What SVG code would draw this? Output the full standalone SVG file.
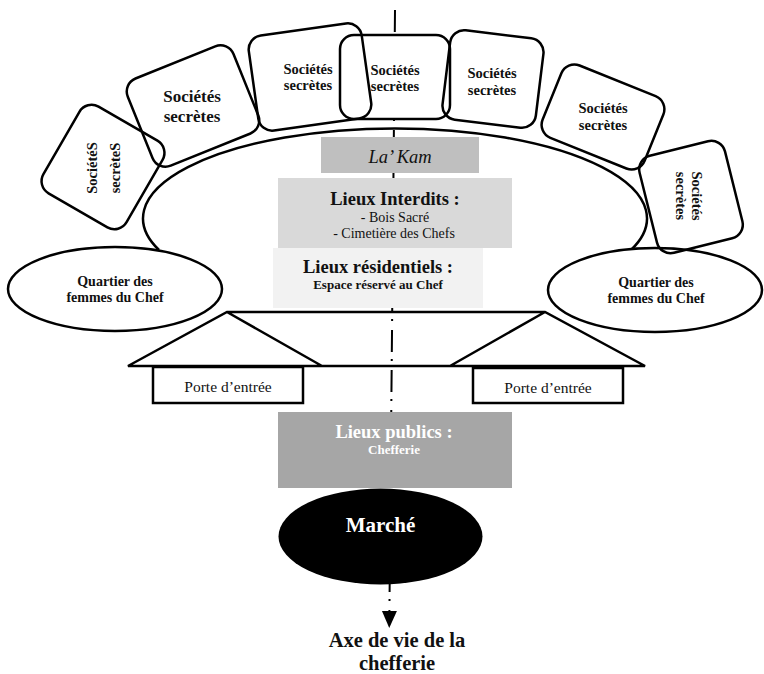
<svg xmlns="http://www.w3.org/2000/svg" width="764" height="674" viewBox="0 0 764 674">
<style>
.ol{fill:none;stroke:#000;stroke-width:2.5}
.ow{fill:#fff;stroke:#000;stroke-width:2.5}
.t{font-family:"Liberation Serif","Times New Roman",serif;fill:#111;text-anchor:middle}
.b{font-weight:bold}
.s{font-size:14.5px}
.w{fill:#fff}
</style>
<defs>
<marker id="arr" markerUnits="userSpaceOnUse" markerWidth="18" markerHeight="18" refX="2" refY="8" orient="auto">
<path d="M0,0.5 L17,8 L0,15.5 Z" fill="#000"/>
</marker>
</defs>
<rect width="764" height="674" fill="#fff"/>

<g id="enceinte">
<path class="ol" d="M 159 250 A 252 90 0 1 1 631 250"/>
</g>

<g id="connectors">
<line x1="395" y1="10" x2="389.4" y2="613" stroke="#000" stroke-width="2" stroke-dasharray="22 7 2 9" marker-end="url(#arr)"/>
</g>

<g id="quartier-gauche">
<ellipse class="ow" cx="115" cy="289" rx="107" ry="42"/>
<text class="t b" font-size="14" x="115" y="286">Quartier des</text>
<text class="t b" font-size="14" x="115" y="302">femmes du Chef</text>
</g>
<g id="quartier-droit">
<ellipse class="ow" cx="655" cy="290" rx="107" ry="42"/>
<text class="t b" font-size="14" x="656" y="287">Quartier des</text>
<text class="t b" font-size="14" x="656" y="303">femmes du Chef</text>
</g>

<g id="societe-4">
<rect class="ow" x="340" y="35" width="110" height="84" rx="14"/>
<text class="t b s" x="395" y="75">Sociétés</text>
<text class="t b s" x="395" y="91">secrètes</text>
</g>
<g id="societe-1">
<rect class="ol" x="-48" y="-50" width="96" height="100" rx="14" transform="translate(103,167) rotate(30)"/>
<text class="t b s" transform="translate(97,168) rotate(-90)">SociétéS</text>
<text class="t b s" transform="translate(120,168) rotate(-90)">secrèteS</text>
</g>
<g id="societe-2">
<rect class="ol" x="-57" y="-47" width="114" height="94" rx="14" transform="translate(193,106) rotate(-22)"/>
<text class="t b" font-size="17" x="192" y="102">Sociétés</text>
<text class="t b" font-size="17" x="192" y="122">secrètes</text>
</g>
<g id="societe-3">
<rect class="ol" x="-57" y="-48" width="114" height="96" rx="14" transform="translate(310,77) rotate(-8)"/>
<text class="t b s" x="308" y="74">Sociétés</text>
<text class="t b s" x="308" y="90">secrètes</text>
</g>
<g id="societe-5">
<rect class="ol" x="-47" y="-45" width="94" height="90" rx="14" transform="translate(493,79) rotate(7)"/>
<text class="t b s" x="492" y="78">Sociétés</text>
<text class="t b s" x="492" y="95">secrètes</text>
</g>
<g id="societe-6">
<rect class="ol" x="-55" y="-39" width="110" height="78" rx="14" transform="translate(603,117) rotate(22)"/>
<text class="t b s" x="603" y="113">Sociétés</text>
<text class="t b s" x="603" y="130">secrètes</text>
</g>
<g id="societe-7">
<rect class="ol" x="-44" y="-50" width="88" height="100" rx="14" transform="translate(691,197) rotate(-14)"/>
<text class="t b s" transform="translate(692,196) rotate(90)">Sociétés</text>
<text class="t b s" transform="translate(676,196) rotate(90)">secrètes</text>
</g>

<g id="la-kam">
<rect x="321" y="137" width="158" height="36" fill="#bfbfbf"/>
<text class="t" font-size="18.5" font-style="italic" x="400" y="163">La’ Kam</text>
</g>
<g id="lieux-interdits">
<rect x="278" y="178" width="234" height="70" fill="#d9d9d9"/>
<text class="t b" font-size="18.5" x="395" y="205">Lieux Interdits :</text>
<text class="t" font-size="14" x="395" y="222">- Bois Sacré</text>
<text class="t" font-size="14" x="394" y="238">- Cimetière des Chefs</text>
</g>
<g id="lieux-residentiels">
<rect x="273" y="248" width="210" height="60" fill="#f2f2f2"/>
<text class="t b" font-size="18.5" x="378" y="273">Lieux résidentiels :</text>
<text class="t b" font-size="13" x="378" y="289">Espace réservé au Chef</text>
</g>

<g id="enceinte-portes">
<path class="ol" stroke-linejoin="miter" d="M128,366 L227,312 L545,312 L645,366 Z M227,312 L322,366 M545,312 L450,366"/>
</g>
<g id="porte-gauche">
<rect class="ow" x="153" y="367" width="150" height="36"/>
<text class="t" font-size="15.5" x="228" y="392">Porte d’entrée</text>
</g>
<g id="porte-droite">
<rect class="ow" x="473" y="368" width="150" height="35"/>
<text class="t" font-size="15.5" x="548" y="393">Porte d’entrée</text>
</g>

<g id="lieux-publics">
<rect x="278" y="412" width="234" height="76" fill="#a6a6a6"/>
<text class="t b w" font-size="18.5" x="394" y="438">Lieux publics :</text>
<text class="t b w" font-size="13" x="394" y="454">Chefferie</text>
</g>
<g id="marche">
<ellipse cx="380.5" cy="536.5" rx="102" ry="48" fill="#000"/>
<text class="t b w" font-size="21" x="380.5" y="532">Marché</text>
</g>
<g id="axe-label">
<text class="t b" font-size="20.5" x="397" y="647">Axe de vie de la</text>
<text class="t b" font-size="20.5" x="397" y="670">chefferie</text>
</g>
</svg>
